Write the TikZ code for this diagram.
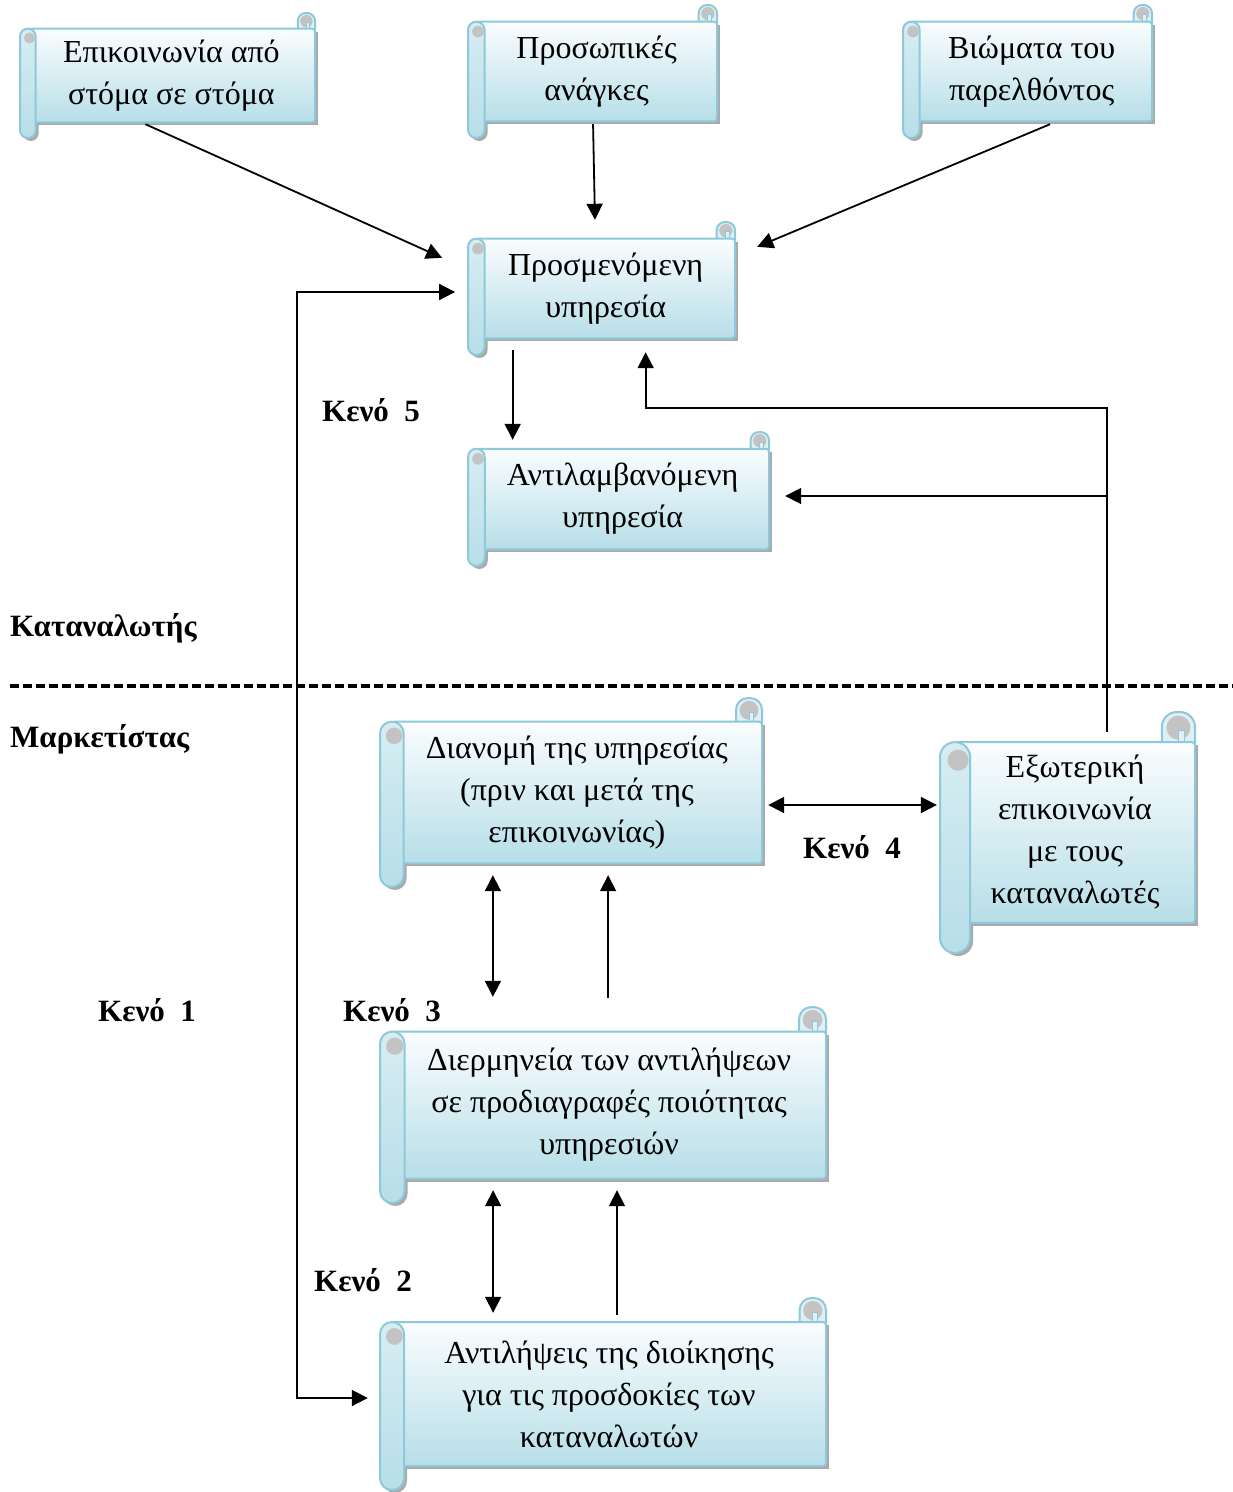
\documentclass[tikz,border=0pt]{standalone}
\usepackage{fontspec}
\setmainfont{Liberation Serif}
\usetikzlibrary{arrows.meta, calc, positioning}
\definecolor{scrollline}{RGB}{141,201,218}
\definecolor{scrolltop}{RGB}{250,253,254}
\definecolor{scrollbottom}{RGB}{183,222,232}
\definecolor{scrollcurl}{RGB}{195,195,195}
\definecolor{scrollshade}{RGB}{170,170,170}

\tikzset{
  scrollbody/.style={draw=scrollline, line width=2pt, top color=scrolltop, bottom color=scrollbottom},
  scrolltube/.style={draw=scrollline, line width=2pt, top color=scrollbottom!55!white, bottom color=scrollbottom},
  scrollroll/.style={draw=scrollline, line width=2pt, fill=scrollbottom!45!white},
  scrolltext/.style={font=\fontsize{32}{42}\selectfont, align=center, inner sep=0pt},
  gaplabel/.style={font=\fontsize{31}{36}\selectfont\bfseries, inner sep=0pt, anchor=west},
  arr/.style={line width=1.8pt, -{Triangle[length=16pt,width=16pt]}},
  dbl/.style={line width=1.8pt, {Triangle[length=16pt,width=16pt]}-{Triangle[length=16pt,width=16pt]}},
  divider/.style={line width=3.2pt, dash pattern=on 9pt off 4pt}
}

% scroll: name, left, top, right, bottom, text
\newcommand\scrollbox[6]{%
  \pgfmathsetmacro\scrL{#2}\pgfmathsetmacro\scrT{#3}%
  \pgfmathsetmacro\scrR{#4}\pgfmathsetmacro\scrB{#5}%
  \pgfmathsetmacro\scrC{min(\scrR-\scrL,\scrB-\scrT)/8}%
  \pgfmathsetmacro\scrH{\scrC/2}%
  % shadow
  \fill[scrollshade] (\scrL+\scrC/2+3,\scrT+\scrC+3) rectangle (\scrR+3,\scrB-\scrC+3);
  \fill[scrollshade, rounded corners=\scrH pt] (\scrL+3,\scrT+\scrC+3) rectangle (\scrL+\scrC+3,\scrB+3);
  % top right roll
  \filldraw[scrollroll, rounded corners=\scrH pt] (\scrR-1.1*\scrC,\scrT) rectangle (\scrR,\scrT+1.5*\scrC);
  \fill[scrollcurl] (\scrR-0.55*\scrC,\scrT+0.52*\scrC) circle[radius=0.4*\scrC];
  \filldraw[scrollroll, line width=1pt] (\scrR-0.55*\scrC,\scrT+0.6*\scrC) rectangle (\scrR-0.35*\scrC,\scrT+\scrC);
  % sheet
  \filldraw[scrollbody, rounded corners=3pt] (\scrL+\scrC/2,\scrT+\scrC) rectangle (\scrR,\scrB-\scrC);
  % left roll
  \filldraw[scrolltube, rounded corners=\scrH pt] (\scrL,\scrT+\scrC) rectangle (\scrL+\scrC,\scrB);
  \fill[scrollcurl] (\scrL+0.6*\scrC,\scrT+1.6*\scrC) circle[radius=0.35*\scrC];
  \node[scrolltext, minimum width={\scrR-\scrL-\scrC/2}, minimum height={\scrB-\scrT}]
    (#1) at ({(\scrL+\scrR)/2+\scrC/4},{(\scrT+\scrB)/2}) {#6};
}

\begin{document}
\begin{tikzpicture}[x=1pt, y=-1pt]
  \useasboundingbox (0,0) rectangle (1233,1492);

  % consumer side
  \scrollbox{word}{20}{13}{315}{138}{Επικοινωνία από\\στόμα σε στόμα}
  \scrollbox{needs}{468}{5}{717}{138}{Προσωπικές\\ανάγκες}
  \scrollbox{past}{903}{5}{1152}{138}{Βιώματα του\\παρελθόντος}
  \scrollbox{expect}{468}{222}{735}{355}{Προσμενόμενη\\υπηρεσία}
  \scrollbox{perc}{468}{432}{769}{566}{Αντιλαμβανόμενη\\υπηρεσία}

  % marketer side
  \scrollbox{deliv}{380}{698}{762}{887}{Διανομή της υπηρεσίας\\(πριν και μετά της\\επικοινωνίας)}
  \scrollbox{extcom}{940}{712}{1195}{953}{Εξωτερική\\επικοινωνία\\με τους\\καταναλωτές}
  \scrollbox{spec}{380}{1007}{826}{1203}{Διερμηνεία των αντιλήψεων\\σε προδιαγραφές ποιότητας\\υπηρεσιών}
  \scrollbox{mgmt}{380}{1298}{826}{1490}{Αντιλήψεις της διοίκησης\\για τις προσδοκίες των\\καταναλωτών}

  % labels
  \node[gaplabel] (consumer) at (10,628) {Καταναλωτής};
  \node[gaplabel] (marketer) at (10,739) {Μαρκετίστας};
  \draw[divider] (10,686) -- (1233,686);
  \node[gaplabel] (gapfive) at (322,410) {Κενό\ \ 5};
  \node[gaplabel] (gapfour) at (803,847) {Κενό\ \ 4};
  \node[gaplabel] (gapone) at (98,1010) {Κενό\ \ 1};
  \node[gaplabel] (gapthree) at (343,1010) {Κενό\ \ 3};
  \node[gaplabel] (gaptwo) at (314,1280) {Κενό\ \ 2};

  % arrows into the expected service
  \draw[arr] ($(word.south)+(-26,-14)$) -- ($(expect.north west)+(-34,36)$);
  \draw[arr] ($(needs.south)+(-3.6,-14)$) -- ($(expect.north)+(-10.7,-2)$);
  \draw[arr] ($(past.south)+(18.4,-14)$) -- ($(expect.north east)+(22,25)$);
  \draw[dbl] ($(expect.west)+(-21,3.5)$) -- ++(-158,0) |- ($(mgmt.west)+(-24,4)$);
  \draw[arr] ($(expect.south)+(-93,-5)$) coordinate (ep) -- ($(ep |- perc.north)+(0,8)$);

  % external communication
  \draw[arr] ($(extcom.north)+(32,20)$) coordinate (xc) |- ($(expect.south)+(40,53)$) -- ($(expect.south)+(40,-3)$);
  \coordinate (pe) at ($(perc.east)+(16,-3)$);
  \draw[arr] (xc |- pe) -- (pe);
  \draw[dbl, shorten >=18pt] ($(deliv.east)+(6,12.5)$) coordinate (de) -- (de -| extcom.west);

  % gaps 3 and 2
  \draw[dbl, shorten >=10pt] ($(deliv.south)+(-84,-12)$) coordinate (ds) -- (ds |- spec.north);
  \draw[arr] ($(spec.north)+(-1,-9)$) coordinate (su) -- (su |- ds);
  \draw[dbl] ($(spec.south)+(-116,-13)$) coordinate (sd) -- ($(sd |- mgmt.north)+(0,15)$);
  \draw[arr] ($(mgmt.north)+(8,17)$) coordinate (mu) -- (mu |- sd);
\end{tikzpicture}
\end{document}
